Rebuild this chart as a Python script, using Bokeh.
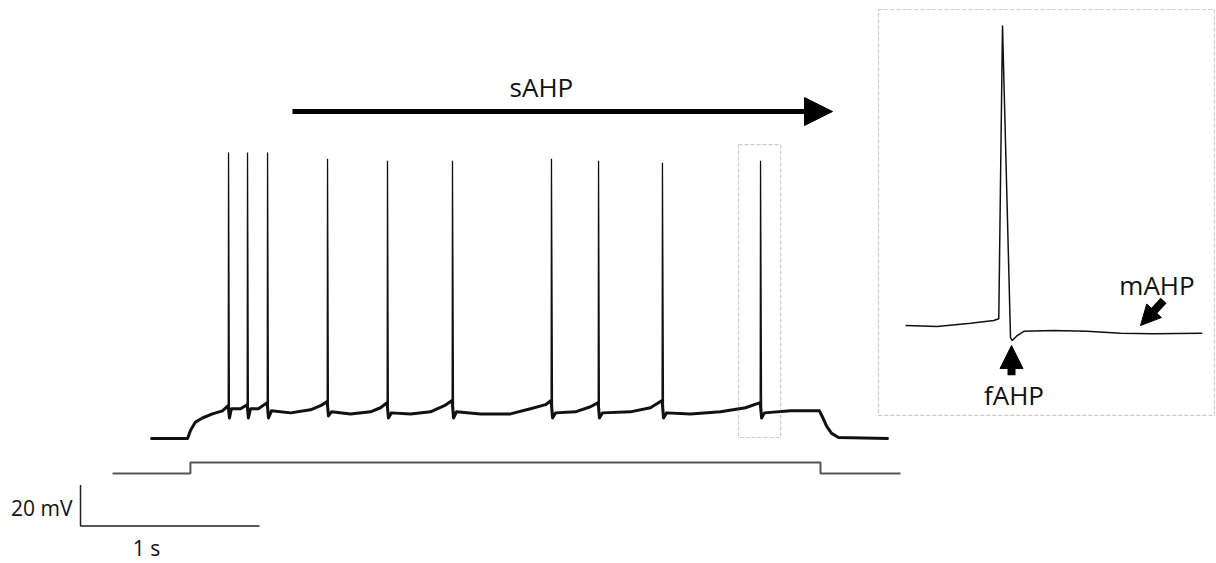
from bokeh.plotting import figure
from bokeh.models import Range1d, Arrow, NormalHead, Label, BoxAnnotation
from bokeh.embed import file_html
from bokeh.resources import INLINE

# ---------------- data ----------------
# Whole-cell voltage trace during a depolarising current step (time in ms, membrane potential in mV)
TRACE_T_MS = [0, 207, 224, 251, 290, 346, 402,
              434, 436, 441, 452, 503,
              540, 542, 547, 559, 603,
              652, 654, 659, 676, 782, 894, 950,
              987, 989, 994, 1011, 1117, 1229, 1285,
              1322, 1324, 1329, 1346, 1453, 1564, 1642,
              1685, 1687, 1693, 1709, 1844, 2011, 2123, 2207,
              2238, 2240, 2246, 2263, 2374, 2458,
              2501, 2503, 2508, 2525, 2681, 2793,
              2858, 2860, 2866, 2883, 3017, 3184, 3324,
              3406, 3408, 3414, 3430, 3575, 3737, 3754, 3777, 3805, 3844, 4123]
TRACE_MV = [-70, -70, -66, -62, -60, -58, -56.5,
            -54, 69.5, -60, -55.5, -55.5,
            -53.5, 69.5, -60, -55.5, -55.5,
            -52.5, 69.5, -60, -56.5, -57.5, -56, -54,
            -52, 66.5, -59, -57, -58, -57, -55,
            -52.5, 65.5, -60, -57.5, -58, -57, -54,
            -51.5, 65.5, -60, -57, -58, -58, -55.5, -53.5,
            -51.5, 66.5, -60, -57.5, -57, -54.5,
            -52.5, 65.5, -60, -57.5, -57, -55,
            -51.5, 64.5, -60, -57.5, -58, -57, -55,
            -52.5, 65.5, -60, -57.5, -56.5, -56.5, -59.5, -64, -67.5, -69.5, -70]

# Injected current step (time in ms, current in pA)
CURRENT_T_MS = [-212, 223, 223, 3743, 3743, 4190]
CURRENT_PA = [0, 0, 100, 100, 0, 0]

# Expanded view of the last spike (time relative to peak in ms, mV)
INSET_T_MS = [-67.7, -45.6, -22.3, -6.1, -2.6, 0.0, 5.6, 6.8, 10.3, 14.9, 35.6, 59.1, 82.4, 105.4, 139.5]
INSET_MV = [-54.2, -54.6, -53.3, -52.2, -51.5, 65.5, -59.0, -60.2, -58.2, -56.5, -56.2, -56.5, -57.3, -57.5, -57.3]

# Scale bar values
SCALE_MS = 1000
SCALE_MV = 20

assert len(TRACE_T_MS) == len(TRACE_MV)
assert len(INSET_T_MS) == len(INSET_MV)

# ---------------- layout (pixel calibration) ----------------
W, H = 1216, 563
FONT = "Open Sans"
INK = "#111111"


def x_range(px0, val0, px_per_unit):
    return Range1d(start=val0 - px0 / px_per_unit, end=val0 + (W - px0) / px_per_unit)


def y_range(py0, val0, px_per_unit):
    # py0 measured from the top of the picture
    return Range1d(start=val0 - (H - py0) / px_per_unit, end=val0 + py0 / px_per_unit)


p = figure(width=W, height=H, output_backend="svg", toolbar_location=None,
           x_axis_location=None, y_axis_location=None,
           x_range=x_range(150, 0, 0.179), y_range=y_range(438, -70, 2.05),
           min_border=0, background_fill_color="white", border_fill_color="white")
p.outline_line_color = None
p.xgrid.visible = False
p.ygrid.visible = False
p.extra_x_ranges = {"inset_t": x_range(1002, 0, 1.432)}
p.extra_y_ranges = {"inset_v": y_range(322, -53, 2.506),
                    "current": y_range(473, 0, 0.11)}

# main voltage trace: thin line incl. spikes, thicker (noisy-looking) sub-threshold part
p.line(TRACE_T_MS, TRACE_MV, line_color=INK, line_width=1.3)
sub_t = [t for t, v in zip(TRACE_T_MS, TRACE_MV) if v < -40]
sub_v = [v for v in TRACE_MV if v < -40]
p.line(sub_t, sub_v, line_color=INK, line_width=3, line_join="round")

# current step
p.line(CURRENT_T_MS, CURRENT_PA, y_range_name="current", line_color="#555555", line_width=2)

# inset trace
p.line(INSET_T_MS, INSET_MV, x_range_name="inset_t", y_range_name="inset_v",
       line_color=INK, line_width=1.5)

# dashed boxes
BOX_STYLE = dict(fill_color=None, line_color="#5a5a5a", line_dash="4 2", line_width=1.2)
p.add_layout(BoxAnnotation(left=3285, right=3520, bottom=-69.5, top=73.4, **BOX_STYLE))
p.add_layout(BoxAnnotation(left=-86.6, right=148.0, bottom=-90.1, top=71.9,
                           x_range_name="inset_t", y_range_name="inset_v", **BOX_STYLE))

# scale bar
t0, v0 = -391, -112.7
p.line([t0, t0, t0 + SCALE_MS], [v0 + SCALE_MV, v0, v0], line_color="#222222", line_width=1.5)
p.add_layout(Label(x=-436, y=-103.8, text=f"{SCALE_MV} mV", text_align="right",
                   text_baseline="alphabetic", text_font=FONT, text_font_size="21px",
                   text_color=INK))
p.add_layout(Label(x=-22, y=-123.6, text=f"{SCALE_MS // 1000} s", text_align="center",
                   text_baseline="alphabetic", text_font=FONT, text_font_size="21px",
                   text_color=INK))

# sAHP arrow
p.add_layout(Arrow(x_start=793, y_start=89.5, x_end=3810, y_end=89.5, line_width=5,
                   line_color="black",
                   end=NormalHead(size=28, fill_color="black", line_color="black", line_width=1)))
p.add_layout(Label(x=2184, y=101.7, text="sAHP", text_align="center", text_baseline="alphabetic",
                   text_font=FONT, text_font_size="26px", text_color=INK))

# fAHP arrow + label
p.add_layout(Arrow(x_start=6.3, y_start=-74.0, x_end=6.3, y_end=-62.2, line_width=8,
                   line_color="black", x_range_name="inset_t", y_range_name="inset_v",
                   end=NormalHead(size=23, fill_color="black", line_color="black", line_width=1)))
p.add_layout(Label(x=8.0, y=-82.0, text="fAHP", text_align="center", text_baseline="alphabetic",
                   x_range_name="inset_t", y_range_name="inset_v",
                   text_font=FONT, text_font_size="26px", text_color=INK))

# mAHP arrow + label
p.add_layout(Arrow(x_start=112.5, y_start=-44.2, x_end=96.4, y_end=-54.2, line_width=8,
                   line_color="black", x_range_name="inset_t", y_range_name="inset_v",
                   end=NormalHead(size=20, fill_color="black", line_color="black", line_width=1)))
p.add_layout(Label(x=107.9, y=-38.2, text="mAHP", text_align="center", text_baseline="alphabetic",
                   x_range_name="inset_t", y_range_name="inset_v",
                   text_font=FONT, text_font_size="26px", text_color=INK))

open("out.html", "w").write(file_html(p, INLINE))
